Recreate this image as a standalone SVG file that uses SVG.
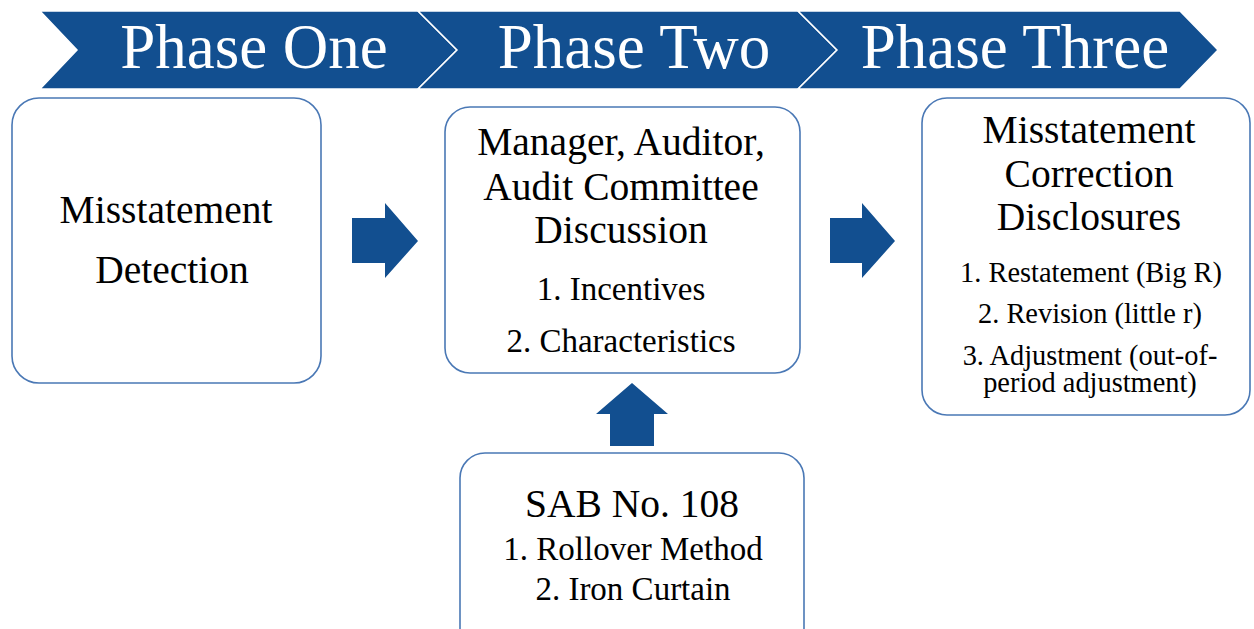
<svg xmlns="http://www.w3.org/2000/svg" width="1254" height="629" viewBox="0 0 1254 629">
  <style>
    .band { fill: #124F90; stroke: #FFFFFF; stroke-width: 1.5; stroke-linejoin: miter; }
    .phase { font-family: 'Liberation Serif', serif; font-size: 63px; fill: #FFFFFF; text-anchor: middle; }
    .box { fill: #FFFFFF; stroke: #4A78B5; stroke-width: 1.6; }
    .title { font-family: 'Liberation Serif', serif; font-size: 39.5px; fill: #000000; text-anchor: middle; }
    .item { font-family: 'Liberation Serif', serif; font-size: 33px; fill: #000000; text-anchor: middle; }
    .small { font-family: 'Liberation Serif', serif; font-size: 28.4px; fill: #000000; text-anchor: middle; }
    .arrow { fill: #124F90; }
  </style>
  <rect width="1254" height="629" fill="#FFFFFF"/>

  <!-- phase banner -->
  <g id="phase-one">
    <polygon class="band" points="40,11 418,11 457,50 418,89 40,89 77,50"/>
    <text class="phase" x="254" y="68" font-family="Liberation Serif">Phase One</text>
  </g>
  <g id="phase-two">
    <polygon class="band" points="418,11 798,11 837,50 798,89 418,89 457,50"/>
    <text class="phase" x="634" y="68" font-family="Liberation Serif">Phase Two</text>
  </g>
  <g id="phase-three">
    <polygon class="band" points="798,11 1180,11 1218,50 1180,89 798,89 837,50"/>
    <text class="phase" x="1015" y="68" font-family="Liberation Serif">Phase Three</text>
  </g>

  <!-- stage boxes -->
  <g id="detection">
    <rect class="box" x="12" y="98" width="309" height="285" rx="27" ry="27"/>
    <text class="title" x="166" y="223" font-family="Liberation Serif">Misstatement</text>
    <text class="title" x="172" y="283" font-family="Liberation Serif">Detection</text>
  </g>
  <g id="discussion">
    <rect class="box" x="445" y="107" width="355" height="266" rx="25" ry="25"/>
    <text class="title" x="621" y="155" font-family="Liberation Serif">Manager, Auditor,</text>
    <text class="title" x="621" y="200" font-family="Liberation Serif">Audit Committee</text>
    <text class="title" x="621" y="243" font-family="Liberation Serif">Discussion</text>
    <text class="item" x="621" y="300" font-family="Liberation Serif">1. Incentives</text>
    <text class="item" x="621" y="352" font-family="Liberation Serif">2. Characteristics</text>
  </g>
  <g id="disclosures">
    <rect class="box" x="922" y="98" width="328" height="317" rx="25" ry="25"/>
    <text class="title" x="1089" y="143" font-family="Liberation Serif">Misstatement</text>
    <text class="title" x="1089" y="187" font-family="Liberation Serif">Correction</text>
    <text class="title" x="1089" y="230" font-family="Liberation Serif">Disclosures</text>
    <text class="small" x="1091" y="282" font-family="Liberation Serif">1. Restatement (Big R)</text>
    <text class="small" x="1090" y="323" font-family="Liberation Serif">2. Revision (little r)</text>
    <text class="small" x="1090" y="365" font-family="Liberation Serif">3. Adjustment (out-of-</text>
    <text class="small" x="1090" y="392" font-family="Liberation Serif">period adjustment)</text>
  </g>
  <g id="sab108">
    <rect class="box" x="460" y="453" width="344" height="200" rx="25" ry="25"/>
    <text class="title" x="632" y="517" font-family="Liberation Serif">SAB No. 108</text>
    <text class="item" x="633" y="560" font-family="Liberation Serif">1. Rollover Method</text>
    <text class="item" x="633" y="600" font-family="Liberation Serif">2. Iron Curtain</text>
  </g>

  <!-- block arrows between stages -->
  <g id="connectors">
    <polygon class="arrow" points="352,218 385,218 385,203 418,241 385,278 385,263 352,263"/>
    <polygon class="arrow" points="830,218 862,218 862,203 895,241 862,278 862,263 830,263"/>
    <polygon class="arrow" points="610,446 610,414 596,414 632,383 668,414 654,414 654,446"/>
  </g>
</svg>
